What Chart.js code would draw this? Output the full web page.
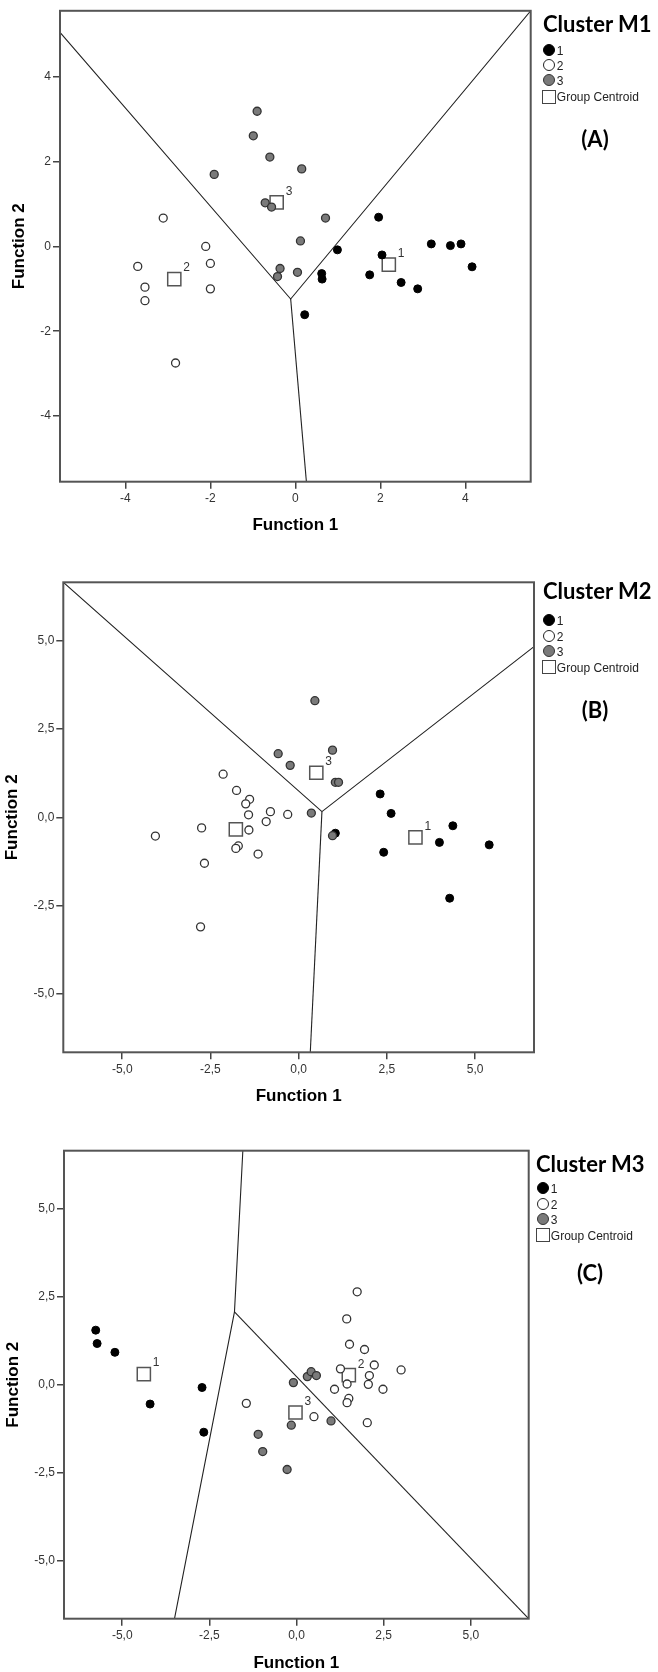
<!DOCTYPE html>
<html>
<head>
<meta charset="utf-8">
<script src="https://cdn.jsdelivr.net/npm/chart.js@4.4.0/dist/chart.umd.min.js"></script>
<style>
body { margin: 0; background: #fff; width: 658px; height: 1672px; position: relative; overflow: hidden; }
canvas { position: absolute; left: 0; }
.ttl { position: absolute; font: 700 22px Lato, "Liberation Sans", sans-serif; color: #000; white-space: nowrap; }
.itm { position: absolute; font: 12px "Liberation Sans", Arial, sans-serif; color: #222; white-space: nowrap; }
.mk { position: absolute; box-sizing: border-box; }
</style>
</head>
<body>
<script>
// ---- Cluster M1 (A) ----
const m1Cluster1 = [[1.96, 0.69], [3.20, 0.06], [3.65, 0.02], [3.90, 0.06], [0.99, -0.08], [2.04, -0.20],
  [4.16, -0.48], [0.62, -0.64], [0.63, -0.77], [1.75, -0.67], [2.49, -0.85], [2.88, -1.00], [0.22, -1.61]];
const m1Cluster2 = [[-3.11, 0.67], [-2.11, 0.00], [-2.00, -0.40], [-3.71, -0.47], [-3.54, -0.96],
  [-2.00, -1.00], [-3.54, -1.28], [-2.82, -2.75]];
const m1Cluster3 = [[-0.90, 3.19], [-0.99, 2.61], [-0.60, 2.11], [0.15, 1.83], [-1.91, 1.70], [-0.71, 1.03],
  [-0.56, 0.93], [0.71, 0.67], [0.12, 0.13], [-0.36, -0.52], [-0.42, -0.71], [0.05, -0.61]];
const m1Centroids = [[2.20, -0.43], [-2.85, -0.77], [-0.44, 1.04]];
const m1Borders = [[[-5.54, 5.05], [-0.11, -1.24], [5.54, 5.56]], [[-0.11, -1.24], [0.26, -5.55]]];
const m1XRange = [-5.54, 5.54];
const m1YRange = [-5.55, 5.56];
const m1Ticks = [-4, -2, 0, 2, 4];
const m1TickLabels = ['-4', '-2', '0', '2', '4'];

// ---- Cluster M2 (B) ----
const m2Cluster1 = [[2.31, 0.66], [2.62, 0.11], [4.37, -0.24], [3.99, -0.71], [5.40, -0.78], [2.41, -0.99],
  [4.28, -2.29], [1.04, -0.45]];
const m2Cluster2 = [[-2.14, 1.22], [-1.76, 0.76], [-1.39, 0.51], [-1.50, 0.38], [-1.42, 0.07], [-0.80, 0.16],
  [-0.31, 0.08], [-0.92, -0.12], [-2.75, -0.30], [-4.06, -0.53], [-1.41, -0.36], [-1.71, -0.81],
  [-1.78, -0.88], [-1.15, -1.04], [-2.67, -1.30], [-2.78, -3.10]];
const m2Cluster3 = [[0.46, 3.30], [-0.58, 1.80], [-0.24, 1.47], [0.36, 0.12], [0.96, 1.90], [1.04, 0.99],
  [1.13, 0.99], [0.96, -0.52]];
const m2Centroids = [[3.31, -0.57], [-1.78, -0.34], [0.50, 1.26]];
const m2Borders = [[[-6.67, 6.65], [0.66, 0.16], [6.67, 4.83]], [[0.66, 0.16], [0.33, -6.65]]];
const m2XRange = [-6.67, 6.67];
const m2YRange = [-6.65, 6.65];

// ---- Cluster M3 (C) ----
const m3Cluster1 = [[-5.76, 1.56], [-5.72, 1.18], [-5.21, 0.93], [-2.71, -0.07], [-4.20, -0.54], [-2.66, -1.34]];
const m3Cluster2 = [[1.74, 2.65], [1.44, 1.88], [1.52, 1.16], [1.95, 1.01], [2.23, 0.57], [3.00, 0.43],
  [1.26, 0.46], [2.09, 0.27], [1.45, 0.03], [2.06, 0.02], [1.09, -0.12], [2.48, -0.12], [1.50, -0.38],
  [1.45, -0.50], [0.50, -0.90], [2.03, -1.07], [-1.44, -0.52]];
const m3Cluster3 = [[-0.09, 0.07], [0.31, 0.24], [0.42, 0.38], [0.57, 0.27], [-0.15, -1.14], [-1.10, -1.40],
  [-0.97, -1.89], [-0.27, -2.40], [0.99, -1.02]];
const m3Centroids = [[-4.38, 0.31], [1.50, 0.28], [-0.03, -0.78]];
const m3Borders = [[[-1.54, 6.66], [-1.78, 2.08], [-3.50, -6.64]], [[-1.78, 2.08], [6.66, -6.64]]];
const m3XRange = [-6.67, 6.66];
const m3YRange = [-6.64, 6.66];

const m23Ticks = [-5, -2.5, 0, 2.5, 5];
const m23TickLabels = ['-5,0', '-2,5', '0,0', '2,5', '5,0'];

const clusterNames = ['1', '2', '3', 'Group Centroid'];

const panels = [
  { title: 'Cluster M1', tag: '(A)', top: 0, h: 545, area: { l: 60, t: 9.5, r: 530.7, b: 481.7 },
    xPad: 11, yPad: 10.5, c1: m1Cluster1, c2: m1Cluster2, c3: m1Cluster3, cent: m1Centroids, borders: m1Borders,
    xr: m1XRange, yr: m1YRange, ticks: m1Ticks, labels: m1TickLabels, centLabels: ['1', '2', '3'],
    lg: { tx: 543, ty: 23, mx: 549.3, rows: [50, 65, 80, 96.7], tagX: 595, tagY: 138 } },
  { title: 'Cluster M2', tag: '(B)', top: 550, h: 560, area: { l: 63.3, t: 32.3, r: 534, b: 502.3 },
    xPad: 5, yPad: 3.5, c1: m2Cluster1, c2: m2Cluster2, c3: m2Cluster3, cent: m2Centroids, borders: m2Borders,
    xr: m2XRange, yr: m2YRange, ticks: m23Ticks, labels: m23TickLabels, centLabels: ['1', '', '3'],
    lg: { tx: 543, ty: 590, mx: 549.3, rows: [620, 636, 651, 667.3], tagX: 595, tagY: 709 } },
  { title: 'Cluster M3', tag: '(C)', top: 1110, h: 562, area: { l: 64, t: 40.7, r: 528.7, b: 508.7 },
    xPad: 0, yPad: 5, c1: m3Cluster1, c2: m3Cluster2, c3: m3Cluster3, cent: m3Centroids, borders: m3Borders,
    xr: m3XRange, yr: m3YRange, ticks: m23Ticks, labels: m23TickLabels, centLabels: ['1', '2', '3'],
    lg: { tx: 536, ty: 1163.3, mx: 543.3, rows: [1188.3, 1204, 1219, 1235], tagX: 590, tagY: 1271.7 } }
];

const pts = arr => arr.map(([x, y]) => ({ x, y }));

const framePlugin = {
  id: 'frame',
  afterDraw(chart) {
    const { ctx, chartArea: c } = chart;
    ctx.save();
    ctx.strokeStyle = '#555';
    ctx.lineWidth = 2;
    ctx.strokeRect(c.left, c.top, c.right - c.left, c.bottom - c.top);
    ctx.restore();
  }
};

const centroidLabels = {
  id: 'centLabels',
  afterDatasetsDraw(chart, args, opts) {
    const { ctx, scales } = chart;
    ctx.save();
    ctx.fillStyle = '#333';
    ctx.font = '12px "Liberation Sans", Arial';
    ctx.textBaseline = 'middle';
    opts.points.forEach(([x, y], i) => {
      if (!opts.labels[i]) return;
      ctx.fillText(opts.labels[i], scales.x.getPixelForValue(x) + 9, scales.y.getPixelForValue(y) - 11);
    });
    ctx.restore();
  }
};

function addDiv(cls, text, x, y, center) {
  const d = document.createElement('div');
  d.className = cls;
  if (text) d.textContent = text;
  d.style.left = x + 'px';
  d.style.top = y + 'px';
  d.style.transform = center ? 'translate(-50%,-50%)' : 'translate(0,-50%)';
  document.body.appendChild(d);
  return d;
}

function addLegend(p) {
  const lg = p.lg;
  addDiv('ttl', p.title, lg.tx, lg.ty, false);
  const styles = [
    { background: '#000', border: '1px solid #000', borderRadius: '50%', width: '12px', height: '12px' },
    { background: '#fff', border: '1.5px solid #222', borderRadius: '50%', width: '12px', height: '12px' },
    { background: '#7a7a7a', border: '1.5px solid #333', borderRadius: '50%', width: '12px', height: '12px' },
    { background: '#fff', border: '1.5px solid #444', width: '14px', height: '14px' }
  ];
  clusterNames.forEach((name, i) => {
    const m = addDiv('mk', '', lg.mx, lg.rows[i], true);
    Object.assign(m.style, styles[i]);
    addDiv('itm', name, lg.mx + 7.5, lg.rows[i] + 0.5, false);
  });
  addDiv('ttl', p.tag, lg.tagX, lg.tagY, true);
}

function makePanel(p) {
  const cv = document.createElement('canvas');
  cv.width = 658;
  cv.height = p.h;
  cv.style.top = p.top + 'px';
  document.body.appendChild(cv);
  const a = p.area;

  const datasets = p.borders.map(line => ({
    data: pts(line), showLine: true, borderColor: '#222', borderWidth: 1.1, pointRadius: 0, fill: false
  }));
  datasets.push(
    { data: pts(p.c3), backgroundColor: '#7a7a7a', borderColor: '#333', borderWidth: 1.3, pointRadius: 4 },
    { data: pts(p.c2), backgroundColor: '#fff', borderColor: '#333', borderWidth: 1.3, pointRadius: 4 },
    { data: pts(p.c1), backgroundColor: '#000', borderColor: '#000', borderWidth: 1, pointRadius: 4 },
    { data: pts(p.cent), pointStyle: 'rect', backgroundColor: 'rgba(255,255,255,0.9)', borderColor: '#555',
      borderWidth: 1.5, pointRadius: 9.3 }
  );

  const fmt = v => p.labels[p.ticks.indexOf(v)] ?? '';
  const tickFont = { family: '"Liberation Sans", Arial, sans-serif', size: 12 };
  const titleFont = { family: '"Liberation Sans", Arial, sans-serif', size: 17, weight: 'bold', lineHeight: 1 };
  const grid = { display: true, drawOnChartArea: false, drawTicks: true, tickLength: 7, color: '#444', lineWidth: 1.5 };

  new Chart(cv, {
    type: 'scatter',
    data: { datasets },
    options: {
      responsive: false,
      animation: false,
      events: [],
      layout: { padding: { left: 0, top: a.t, right: 658 - a.r, bottom: 0 } },
      plugins: {
        legend: { display: false },
        tooltip: { enabled: false },
        centLabels: { points: p.cent, labels: p.centLabels }
      },
      scales: {
        x: {
          type: 'linear', min: p.xr[0], max: p.xr[1],
          afterFit: s => { s.height = p.h - a.b; },
          afterBuildTicks: s => { s.ticks = p.ticks.map(v => ({ value: v })); },
          grid, border: { display: false },
          ticks: { callback: fmt, padding: 3, color: '#333', font: tickFont, maxRotation: 0, autoSkip: false },
          title: { display: true, text: 'Function 1', color: '#000', font: titleFont, padding: { top: 0, bottom: p.xPad } }
        },
        y: {
          type: 'linear', min: p.yr[0], max: p.yr[1],
          afterFit: s => { s.width = a.l; },
          afterBuildTicks: s => { s.ticks = p.ticks.map(v => ({ value: v })); },
          grid, border: { display: false },
          ticks: { callback: fmt, padding: 2, color: '#333', font: tickFont, autoSkip: false },
          title: { display: true, text: 'Function 2', color: '#000', font: titleFont, padding: { top: p.yPad, bottom: 0 } }
        }
      }
    },
    plugins: [framePlugin, centroidLabels]
  });
  addLegend(p);
}

panels.forEach(makePanel);
</script>
</body>
</html>
